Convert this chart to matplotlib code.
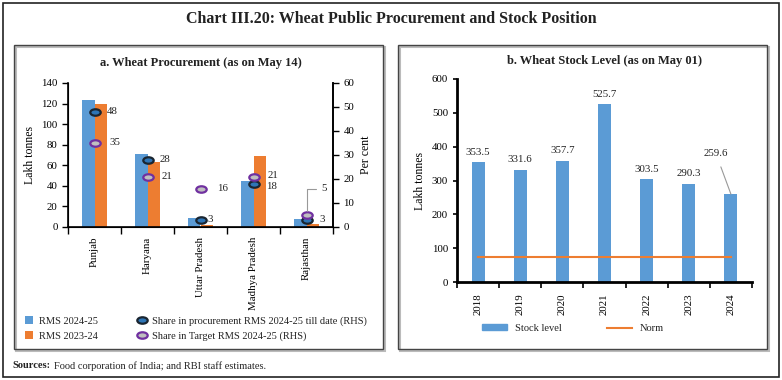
import matplotlib
matplotlib.use("Agg")
import matplotlib.pyplot as plt
from matplotlib.patches import Rectangle, Patch
from matplotlib.lines import Line2D
from matplotlib.path import Path
from matplotlib.transforms import Affine2D
import numpy as np

plt.rcParams['font.family'] = ['Liberation Serif', 'DejaVu Serif']
plt.rcParams['text.color'] = '#222222'

# data
states = ['Punjab', 'Haryana', 'Uttar Pradesh', 'Madhya Pradesh', 'Rajasthan']
rms_2024 = [123, 71, 8.5, 45, 8]
rms_2023 = [120, 63, 1.5, 69, 3]
share_proc = [48, 28, 3, 18, 3]
share_target = [35, 21, 16, 21, 5]

years = ['2018', '2019', '2020', '2021', '2022', '2023', '2024']
stock = [353.5, 331.6, 357.7, 525.7, 303.5, 290.3, 259.6]
norm = [74.6] * 7

blue = '#5B9BD5'
orange = '#ED7D31'

# flat oval marker like the excel one
oval = Path.unit_circle().transformed(Affine2D().scale(1, 0.62))

W, H = 782, 380
fig = plt.figure(figsize=(W / 100, H / 100), dpi=100)


def box(x0, y0, x1, y1):
    return [x0 / W, 1 - y1 / H, (x1 - x0) / W, (y1 - y0) / H]


# frames
fig.patches.append(Rectangle((3 / W, 3 / H), 776 / W, 374 / H, transform=fig.transFigure,
                             fill=False, edgecolor='#222222', lw=1.2))
for x0, x1 in [(14, 383), (398, 767)]:
    fig.patches.append(Rectangle(((x0 + 2) / W, 1 - 351 / H), (x1 - x0) / W, 304 / H,
                                 transform=fig.transFigure, fill=False, edgecolor='#bbbbbb', lw=1.5))
    fig.patches.append(Rectangle((x0 / W, 1 - 349 / H), (x1 - x0) / W, 304 / H,
                                 transform=fig.transFigure, fill=False, edgecolor='#444444', lw=1))

fig.text(391 / W, 1 - 19 / H, 'Chart III.20: Wheat Public Procurement and Stock Position',
         ha='center', va='center', fontsize=11.5, fontweight='bold')
fig.text(12 / W, 1 - 366 / H, 'Sources:', ha='left', va='center', fontsize=7.5, fontweight='bold')
fig.text(54 / W, 1 - 366 / H, 'Food corporation of India; and RBI staff estimates.',
         ha='left', va='center', fontsize=7.5)

# ---- panel a
ax = fig.add_axes(box(68, 83, 333, 227))
x = np.arange(len(states))
bw = 0.24
ax.bar(x - bw / 2, rms_2024, bw, color=blue, label='RMS 2024-25')
ax.bar(x + bw / 2, rms_2023, bw, color=orange, label='RMS 2023-24')
ax.set_xlim(-0.5, 4.5)
ax.set_ylim(0, 140)
ax.set_yticks(range(0, 141, 20))
ax.set_xticks(x)
ax.set_xticklabels(states, rotation=90, fontsize=7.8)
ax.set_xticks(np.arange(-0.5, 4.6, 1), minor=True)
ax.tick_params(axis='x', which='major', length=0, pad=7)
ax.tick_params(axis='x', which='minor', length=5, width=1)
ax.tick_params(axis='y', labelsize=7.8, length=4, width=1)
ax.set_ylabel('Lakh tonnes', fontsize=8.5)
ax.spines['top'].set_visible(False)
for s in ['left', 'bottom', 'right']:
    ax.spines[s].set_linewidth(1.2)
ax.set_title('a. Wheat Procurement (as on May 14)', fontsize=9, fontweight='bold', pad=12)

ax2 = ax.twinx()
ax2.set_ylim(0, 60)
ax2.set_yticks(range(0, 61, 10))
ax2.tick_params(axis='y', labelsize=7.8, length=4, width=1)
ax2.set_ylabel('Per cent', fontsize=8.5)
ax2.spines['top'].set_visible(False)
ax2.spines['right'].set_linewidth(1.2)
ax2.plot(x, share_proc, ls='none', marker=oval, ms=7.5, mfc='#2E75B6', mec='#1a2530', mew=1.6,
         label='Share in procurement RMS 2024-25 till date (RHS)')
ax2.plot(x, share_target, ls='none', marker=oval, ms=7.5, mfc='#BFBFBF', mec='#7030A0', mew=1.6,
         label='Share in Target RMS 2024-25 (RHS)')
proc_off = [(9, 0), (9, 0), (5, 0), (9, -2), (9, 0)]
for i, v in enumerate(share_proc):
    ax2.annotate(str(v), (x[i], v), xytext=proc_off[i], textcoords='offset points',
                 va='center', ha='left', fontsize=7.8)
target_off = [(11, 0), (10, 0), (12, 0), (10, 1)]
for i, v in enumerate(share_target):
    if i == 4:
        ax2.annotate(str(v), (x[i], v), xytext=(4.28, 16), textcoords='data',
                     va='center', ha='left', fontsize=7.8,
                     arrowprops=dict(arrowstyle='-', color='#999999', lw=0.8,
                                     connectionstyle='angle,angleA=0,angleB=90,rad=0',
                                     shrinkA=2, shrinkB=3))
    else:
        ax2.annotate(str(v), (x[i], v), xytext=target_off[i], textcoords='offset points',
                     va='center', ha='left', fontsize=7.8)

h1, l1 = ax.get_legend_handles_labels()
h2, l2 = ax2.get_legend_handles_labels()
fig.legend(h1 + h2, l1 + l2, ncol=2, loc='upper left', bbox_to_anchor=(25 / W, 1 - 316 / H),
           frameon=False, fontsize=7.5, handlelength=0.8, handleheight=0.8, handletextpad=0.5,
           columnspacing=3.9, labelspacing=0.55, borderaxespad=0, borderpad=0)

# ---- panel b
bx = fig.add_axes(box(457, 79, 752, 282))
xb = np.arange(len(years))
bars = bx.bar(xb, stock, 0.31, color=blue, label='Stock level')
bx.plot(xb, norm, color=orange, lw=1.5, label='Norm')
bx.set_xlim(-0.5, 6.5)
bx.set_ylim(0, 600)
bx.set_yticks(range(0, 601, 100))
bx.set_xticks(xb)
bx.set_xticklabels(years, rotation=90, fontsize=7.8)
bx.set_xticks(np.arange(-0.5, 6.6, 1), minor=True)
bx.tick_params(axis='x', which='major', length=0, pad=8)
bx.tick_params(axis='x', which='minor', length=4, width=1.2)
bx.tick_params(axis='y', labelsize=7.8, length=3, width=1.2)
bx.set_ylabel('Lakh tonnes', fontsize=8.5)
for s in ['top', 'right']:
    bx.spines[s].set_visible(False)
for s in ['left', 'bottom']:
    bx.spines[s].set_linewidth(2)
bx.set_title('b. Wheat Stock Level (as on May 01)', fontsize=9, fontweight='bold', pad=11)
for i, v in enumerate(stock):
    if i == len(stock) - 1:
        bx.annotate(f'{v:.1f}', (xb[i], v), xytext=(5.64, 381), textcoords='data',
                    ha='center', va='center', fontsize=7.8,
                    arrowprops=dict(arrowstyle='-', color='#999999', lw=0.8, shrinkA=5, shrinkB=0))
    else:
        bx.annotate(f'{v:.1f}', (xb[i], v), xytext=(0, 4), textcoords='offset points',
                    ha='center', va='bottom', fontsize=7.8)

bx.legend(handles=[Patch(color=blue, label='Stock level'), Line2D([], [], color=orange, lw=1.5, label='Norm')],
          ncol=2, loc='upper left', bbox_to_anchor=(482 / W, 1 - 324 / H), bbox_transform=fig.transFigure,
          frameon=False, fontsize=7.5, handlelength=2.4, handleheight=0.5, handletextpad=0.8,
          columnspacing=4.3, borderaxespad=0, borderpad=0)

fig.savefig('out.png', dpi=100)
